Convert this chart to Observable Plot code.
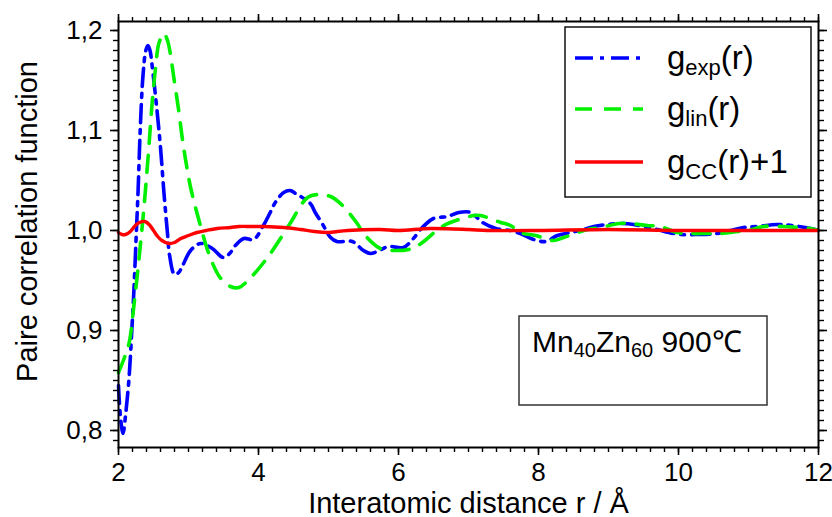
<!DOCTYPE html>
<html>
<head>
<meta charset="utf-8">
<script src="https://cdn.jsdelivr.net/npm/d3@7"></script>
<script src="https://cdn.jsdelivr.net/npm/@observablehq/plot@0.6"></script>
<style>
  html, body { margin: 0; padding: 0; background: #fff; }
  #chart { width: 832px; height: 517px; }
</style>
</head>
<body>
<div id="chart"></div>
<script>
// ---- Data ----
const expR = [2.00, 2.03, 2.065, 2.10, 2.15, 2.19, 2.22, 2.25, 2.28, 2.31, 2.35, 2.39, 2.42, 2.45, 2.48, 2.55, 2.60, 2.65, 2.70, 2.73, 2.80, 2.86, 2.91, 3.03, 3.17, 3.34, 3.50, 3.60, 3.67, 3.79, 3.93, 4.07, 4.16, 4.24, 4.36, 4.45, 4.53, 4.74, 4.81, 4.91, 5.03, 5.12, 5.34, 5.50, 5.60, 5.75, 5.86, 6.07, 6.20, 6.34, 6.50, 6.70, 6.86, 7.03, 7.20, 7.39, 7.60, 7.74, 7.93, 8.10, 8.27, 8.46, 8.64, 8.79, 8.98, 9.20, 9.36, 9.50, 9.70, 9.86, 10.03, 10.27, 10.55, 10.74, 10.93, 11.12, 11.41, 11.62, 11.89, 12.00];
const expG = [0.845, 0.812, 0.797, 0.815, 0.852, 0.900, 0.940, 0.990, 1.040, 1.100, 1.155, 1.180, 1.185, 1.180, 1.165, 1.120, 1.083, 1.037, 0.997, 0.975, 0.956, 0.958, 0.964, 0.980, 0.987, 0.982, 0.973, 0.978, 0.985, 0.992, 0.991, 1.005, 1.017, 1.028, 1.038, 1.040, 1.037, 1.027, 1.018, 1.007, 0.993, 0.989, 0.989, 0.980, 0.977, 0.981, 0.984, 0.983, 0.991, 1.003, 1.012, 1.014, 1.018, 1.018, 1.008, 1.002, 1.000, 0.997, 0.991, 0.989, 0.995, 0.998, 1.001, 1.004, 1.006, 1.007, 1.006, 1.004, 1.001, 0.998, 0.996, 0.996, 0.997, 1.000, 1.003, 1.004, 1.006, 1.005, 1.002, 1.000];

const linR = [2.00, 2.08, 2.15, 2.22, 2.29, 2.36, 2.43, 2.48, 2.53, 2.58, 2.65, 2.70, 2.74, 2.79, 2.86, 2.91, 2.96, 3.03, 3.15, 3.31, 3.46, 3.60, 3.72, 3.89, 4.15, 4.36, 4.46, 4.70, 4.85, 5.03, 5.20, 5.41, 5.50, 5.74, 5.93, 6.20, 6.34, 6.60, 6.74, 7.08, 7.17, 7.46, 7.60, 7.74, 7.96, 8.21, 8.36, 8.70, 8.89, 9.15, 9.30, 9.55, 9.74, 9.98, 10.17, 10.40, 10.60, 10.85, 11.00, 11.21, 11.50, 11.70, 11.89, 12.00];
const linG = [0.858, 0.872, 0.887, 0.925, 0.970, 1.020, 1.080, 1.127, 1.163, 1.188, 1.197, 1.190, 1.177, 1.153, 1.120, 1.093, 1.070, 1.043, 1.010, 0.973, 0.952, 0.944, 0.943, 0.953, 0.975, 0.997, 1.008, 1.033, 1.036, 1.034, 1.025, 1.007, 0.997, 0.982, 0.980, 0.982, 0.988, 1.003, 1.008, 1.015, 1.015, 1.008, 1.005, 0.998, 0.995, 0.990, 0.993, 1.001, 1.003, 1.007, 1.007, 1.005, 1.004, 0.998, 0.997, 0.997, 0.997, 0.999, 1.000, 1.004, 1.004, 1.003, 1.002, 1.000];

const ccR = [2.00, 2.05, 2.10, 2.17, 2.24, 2.30, 2.38, 2.45, 2.50, 2.56, 2.62, 2.72, 2.80, 2.89, 3.00, 3.12, 3.25, 3.41, 3.60, 3.72, 3.90, 4.08, 4.36, 4.60, 4.80, 4.98, 5.27, 5.74, 6.00, 6.46, 7.00, 7.27, 8.00, 9.00, 10.00, 11.00, 12.00];
const ccG = [0.998, 0.996, 0.996, 0.999, 1.005, 1.008, 1.009, 1.005, 1.000, 0.994, 0.990, 0.987, 0.988, 0.992, 0.995, 0.998, 1.000, 1.002, 1.003, 1.004, 1.004, 1.004, 1.003, 1.001, 0.999, 0.998, 1.000, 1.001, 1.000, 1.002, 1.001, 1.000, 1.000, 1.001, 1.000, 1.000, 1.000];

const xMajor = [2, 4, 6, 8, 10, 12];
const yMajor = [0.8, 0.9, 1.0, 1.1, 1.2];
const xMinor = d3.range(20, 121, 2).map(v => v / 10);
const yMinor = d3.range(79, 121, 1).map(v => v / 100);

const xTitle = "Interatomic distance r / Å";
const yTitle = "Paire correlation function";

const seriesLabels = [
  {main: "g", sub: "exp", tail: "(r)", color: "#0000ff", dash: "18,7,4,7"},
  {main: "g", sub: "lin", tail: "(r)", color: "#00f000", dash: "17,12"},
  {main: "g", sub: "CC", tail: "(r)+1", color: "#ff0000", dash: null}
];
const annotation = [{text: "Mn", sub: "40"}, {text: "Zn", sub: "60"}, {text: " 900℃", sub: null}];

// ---- Build tables ----
const expData = expR.map((r, i) => ({r, g: expG[i]}));
const linData = linR.map((r, i) => ({r, g: linG[i]}));
const ccData = ccR.map((r, i) => ({r, g: ccG[i]}));

const font = "'Liberation Sans', Arial, Helvetica, sans-serif";
const fmtY = d => d.toFixed(1).replace(".", ",");

const chart = Plot.plot({
  width: 832,
  height: 517,
  marginLeft: 118,
  marginRight: 14,
  marginTop: 21,
  marginBottom: 70,
  style: {fontFamily: font, fontSize: "26px", color: "black", background: "white", overflow: "visible"},
  x: {domain: [2, 12]},
  y: {domain: [0.783, 1.209]},
  marks: [
    Plot.line(expData, {x: "r", y: "g", stroke: seriesLabels[0].color, strokeWidth: 3.6, strokeDasharray: seriesLabels[0].dash, curve: "catmull-rom"}),
    Plot.line(linData, {x: "r", y: "g", stroke: seriesLabels[1].color, strokeWidth: 3.6, strokeDasharray: seriesLabels[1].dash, curve: "catmull-rom"}),
    Plot.line(ccData, {x: "r", y: "g", stroke: seriesLabels[2].color, strokeWidth: 3.4, curve: "catmull-rom"}),
    Plot.frame({stroke: "black", strokeWidth: 2}),
    // bottom
    Plot.axisX({anchor: "bottom", ticks: xMajor, tickSize: 8, tickPadding: 7, tickFormat: d => String(d), strokeWidth: 1.6, label: null, fontSize: 26}),
    Plot.axisX({anchor: "bottom", ticks: xMinor, tickSize: 5, tickFormat: () => "", strokeWidth: 1.4, label: null}),
    // top
    Plot.axisX({anchor: "top", ticks: xMajor, tickSize: 8, tickFormat: () => "", strokeWidth: 1.6, label: null}),
    Plot.axisX({anchor: "top", ticks: xMinor, tickSize: 5, tickFormat: () => "", strokeWidth: 1.4, label: null}),
    // left
    Plot.axisY({anchor: "left", ticks: yMajor, tickSize: 8, tickPadding: 8, tickFormat: fmtY, strokeWidth: 1.6, label: null, fontSize: 26}),
    Plot.axisY({anchor: "left", ticks: yMinor, tickSize: 5, tickFormat: () => "", strokeWidth: 1.4, label: null}),
    // right
    Plot.axisY({anchor: "right", ticks: yMajor, tickSize: 8, tickFormat: () => "", strokeWidth: 1.6, label: null}),
    Plot.axisY({anchor: "right", ticks: yMinor, tickSize: 5, tickFormat: () => "", strokeWidth: 1.4, label: null}),
    // titles
    Plot.text([xTitle], {frameAnchor: "bottom", dy: 65, fontSize: 29, fill: "black", lineAnchor: "bottom", textAnchor: "middle"}),
    Plot.text([yTitle], {frameAnchor: "left", dx: -82, dy: -13, rotate: -90, fontSize: 29, fill: "black", lineAnchor: "bottom", textAnchor: "middle"})
  ]
});

document.getElementById("chart").appendChild(chart);

// ---- Tick label size: enforce on every tick-label text ----
chart.querySelectorAll("g[aria-label]").forEach(g => {
  const lab = g.getAttribute("aria-label") || "";
  if (lab.includes("tick label")) {
    g.setAttribute("font-size", "26");
    g.style.fontSize = "26px";
    g.querySelectorAll("text").forEach(t => { t.setAttribute("font-size", "26"); t.style.fontSize = "26px"; });
  }
});

// ---- Legend and annotation boxes ----
const svg = d3.select(chart);
const leg = svg.append("g").attr("font-family", font).attr("text-anchor", "start");
leg.append("rect").attr("x", 565).attr("y", 27).attr("width", 246).attr("height", 170)
  .attr("fill", "white").attr("stroke", "#111").attr("stroke-width", 1.5);
const rowY = [58, 109, 162];
seriesLabels.forEach((s, i) => {
  leg.append("line").attr("x1", 575).attr("x2", 643).attr("y1", rowY[i]).attr("y2", rowY[i])
    .attr("stroke", s.color).attr("stroke-width", i === 2 ? 3.4 : 3.6)
    .attr("stroke-dasharray", s.dash);
  const t = leg.append("text").attr("x", 667).attr("y", rowY[i] + 11).attr("font-size", 33).attr("fill", "black");
  t.append("tspan").text(s.main);
  t.append("tspan").attr("font-size", 22).attr("dy", 6).text(s.sub);
  t.append("tspan").attr("dy", -6).text(s.tail);
});

const ann = svg.append("g").attr("font-family", font).attr("text-anchor", "start");
ann.append("rect").attr("x", 519).attr("y", 316).attr("width", 248).attr("height", 89)
  .attr("fill", "white").attr("stroke", "#333").attr("stroke-width", 1.5);
const at = ann.append("text").attr("x", 532).attr("y", 352).attr("font-size", 30).attr("fill", "black");
annotation.forEach((p, i) => {
  at.append("tspan").attr("dy", i === 0 ? 0 : -5).text(p.text);
  if (p.sub) at.append("tspan").attr("font-size", 20).attr("dy", 5).text(p.sub);
});
</script>
</body>
</html>
